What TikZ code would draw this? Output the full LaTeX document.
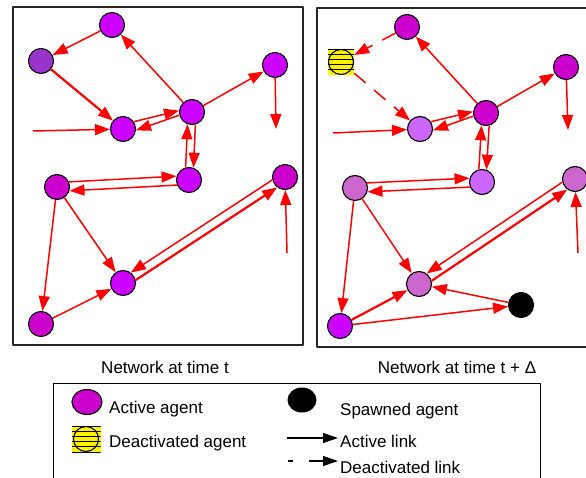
\documentclass[tikz,border=0pt]{standalone}
\usepackage{fontspec}
\setmainfont{Liberation Sans}
\usetikzlibrary{arrows.meta,shapes.geometric}

\begin{document}
\begin{tikzpicture}
  [x=1pt,y=-1pt,line join=round,
   % Styles
   agent/.style={circle,draw=black,line width=1.1pt,minimum size=25pt,inner sep=0pt},
   dead agent/.style={rectangle,fill=yellow,inner sep=0pt,
     minimum width=26pt,minimum height=26pt,
     path picture={
       \foreach \s in {0,...,5}
         \draw[line width=0.9pt]
           ([yshift=-\s*5.2pt]path picture bounding box.north west) --
           ([yshift=-\s*5.2pt]path picture bounding box.north east);
       \draw[line width=1.1pt] (path picture bounding box.center) circle (12.5pt);}},
   link/.style={draw=linkcolor,line width=1.5pt,-{Triangle[length=15pt,width=11pt]}},
   heavy link/.style={link,line width=2.2pt},
   dead link/.style={link,dash pattern=on 15pt off 11pt},
   key link/.style={draw=black,line width=1.2pt,-{Triangle[length=15pt,width=10pt]}},
   panel/.style={draw=black!85,line width=1.3pt},
   label text/.style={inner sep=0pt,font=\fontsize{17}{20}\selectfont}]

  % Colors
  \definecolor{vivid}{HTML}{CC00FF}
  \definecolor{magent}{HTML}{CC00CC}
  \definecolor{lilac}{HTML}{CC66FF}
  \definecolor{mauve}{HTML}{CC66CC}
  \definecolor{plum}{HTML}{9933CC}
  \colorlet{linkcolor}{red}

  \useasboundingbox (0,0) rectangle (586,478);

  % The two panels
  \draw[panel] (13,7) rectangle (303,345);
  \draw[panel] (317,8) rectangle (592,347);

  % Network at time t
  \node[agent,fill=vivid]  (topL)    at (112,25)  {};
  \node[agent,fill=plum]   (oldL)    at (41,61)   {};
  \node[agent,fill=vivid]  (inL)     at (123,129) {};
  \node[agent,fill=vivid]  (hubL)    at (192,112) {};
  \node[agent,fill=vivid]  (farL)    at (275,65)  {};
  \node[agent,fill=vivid]  (midL)    at (189,180) {};
  \node[agent,fill=magent] (westL)   at (57,187)  {};
  \node[agent,fill=magent] (eastL)   at (285,177) {};
  \node[agent,fill=vivid]  (lowL)    at (123,283) {};
  \node[agent,fill=magent] (cornerL) at (41,324)  {};
  \coordinate (feedL) at (33,131);
  \coordinate (dropL) at (276,129);
  \coordinate (riseL) at (287,253);

  \foreach \from/\to in {topL/oldL, feedL/inL, inL.34/hubL.174, hubL.194/inL.-6,
      hubL/topL, hubL/farL, farL/dropL, hubL.-75/midL.70, midL.105/hubL.-110,
      westL.23/midL.163, midL.203/westL.-17, westL/lowL, westL/cornerL,
      cornerL/lowL, eastL.193/lowL.53, riseL/eastL}
    \draw[link] (\from) -- (\to);
  \draw[heavy link] (oldL) -- (inL);
  \draw[heavy link] (lowL.13) -- (eastL.233);

  % Network at time t + Delta
  \node[agent,fill=magent] (topR)    at (407,27)  {};
  \node[dead agent]        (deadR)   at (341,62)  {};
  \node[agent,fill=lilac]  (inR)     at (420,129) {};
  \node[agent,fill=magent] (hubR)    at (486,113) {};
  \node[agent,fill=magent] (farR)    at (566,67)  {};
  \node[agent,fill=lilac]  (midR)    at (482,182) {};
  \node[agent,fill=mauve]  (westR)   at (355,188) {};
  \node[agent,fill=mauve]  (eastR)   at (575,179) {};
  \node[agent,fill=mauve]  (lowR)    at (419,284) {};
  \node[agent,fill=vivid]  (cornerR) at (340,326) {};
  \node[agent,fill=black]  (spawnR)  at (521,305) {};
  \coordinate (feedR) at (333,133);
  \coordinate (dropR) at (568,130);
  \coordinate (riseR) at (578,253);

  \draw[dead link] (topR) -- (deadR);
  \draw[dead link] (deadR) -- (inR);
  \foreach \from/\to in {feedR/inR, inR.34/hubR.174, hubR.194/inR.-6,
      hubR/topR, hubR/farR, farR/dropR, hubR.-76/midR.70, midR.104/hubR.-110,
      westR.23/midR.163, midR.203/westR.-17, westR/lowR, westR/cornerR,
      cornerR/spawnR, spawnR/lowR, eastR.194/lowR.54, riseR/eastR}
    \draw[link] (\from) -- (\to);
  \draw[heavy link] (cornerR) -- (lowR);
  \draw[heavy link] (lowR.14) -- (eastR.234);

  % Captions
  \node[label text,anchor=base] (capL) at (165,373) {Network at time t};
  \node[label text,anchor=base] (capR) at (457,373) {Network at time t + Δ};

  % Legend
  \draw[line width=0.9pt] (53,383) rectangle (540,495);
  \node[ellipse,draw=black,line width=1.1pt,fill=magent,inner sep=0pt,
        minimum width=30pt,minimum height=25pt] (keyActive) at (87,402) {};
  \node[dead agent,minimum width=29pt] (keyDead) at (86,439) {};
  \node[ellipse,fill=black,inner sep=0pt,
        minimum width=29pt,minimum height=25pt] (keySpawn) at (302,400) {};
  \node[label text,anchor=base west] (txtActive) at (109,413) {Active agent};
  \node[label text,anchor=base west] (txtDead)   at (109,447) {Deactivated agent};
  \node[label text,anchor=base west] (txtSpawn)  at (340,415) {Spawned agent};
  \node[label text,anchor=base west] (txtLink)   at (340,447) {Active link};
  \node[label text,anchor=base west] (txtGone)   at (340,473) {Deactivated link};
  \coordinate (keyLinkA) at (287,438);
  \coordinate (keyLinkB) at (338,438);
  \coordinate (keyGoneA) at (288,461);
  \coordinate (keyGoneB) at (338,461);
  \draw[key link] (keyLinkA) -- (keyLinkB);
  \draw[key link,dash pattern=on 5pt off 16pt on 60pt] (keyGoneA) -- (keyGoneB);
\end{tikzpicture}
\end{document}
